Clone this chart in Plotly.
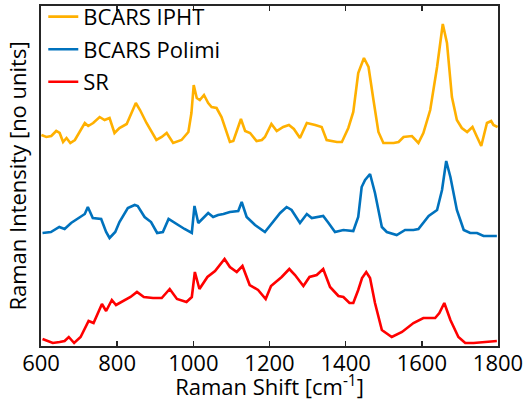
import plotly.graph_objects as go

# ---- data ----
iphT_shift = [601, 614, 627, 640, 649, 658, 667, 677, 689, 702, 715, 724, 737, 754, 767, 780, 793, 806, 825,
              849, 860, 877, 903, 917, 930, 947, 969, 987, 995, 1001, 1009, 1017, 1028, 1039, 1048, 1061, 1074,
              1096, 1105, 1115, 1125, 1136, 1149, 1166, 1180, 1188, 1205, 1219, 1236, 1251, 1264, 1280, 1298,
              1320, 1337, 1350, 1377, 1390, 1399, 1407, 1420, 1433, 1448, 1460, 1473, 1486, 1499, 1526, 1539,
              1552, 1574, 1591, 1604, 1622, 1640, 1655, 1666, 1679, 1692, 1705, 1719, 1733, 1745, 1756, 1771,
              1782, 1788, 1799]
iphT_int = [211, 209, 210, 215, 213, 204, 208, 203, 206, 214, 223, 220, 223, 229, 226, 228, 213, 218, 222,
            243, 236, 223, 206, 209, 213, 203, 206, 214, 233, 261, 248, 246, 251, 243, 239, 238, 229,
            204, 205, 216, 227, 215, 213, 205, 206, 209, 222, 215, 219, 221, 217, 208, 223,
            221, 219, 206, 204, 204, 211, 218, 234, 273, 288, 279, 246, 214, 203, 203, 204,
            209, 210, 203, 213, 236, 279, 322, 303, 249, 226, 218, 214, 219, 209, 200, 223,
            225, 221, 219]

polimi_shift = [604, 626, 648, 662, 679, 701, 715, 723, 736, 758, 771, 780, 795, 806, 828, 846, 854, 872, 889,
                905, 920, 935, 951, 977, 996, 1003, 1013, 1024, 1039, 1052, 1065, 1079, 1096, 1118, 1127, 1140,
                1162, 1188, 1206, 1228, 1245, 1258, 1280, 1298, 1311, 1328, 1341, 1355, 1372, 1394, 1420, 1433,
                1442, 1451, 1464, 1477, 1495, 1508, 1534, 1556, 1578, 1591, 1600, 1618, 1640, 1653, 1664, 1675,
                1692, 1710, 1727, 1745, 1762, 1780, 1797]
polimi_int = [113, 114, 119, 117, 123, 128, 132, 139, 128, 127, 114, 108, 114, 124, 138, 141, 140, 129, 124,
              113, 114, 127, 123, 117, 113, 140, 123, 127, 133, 129, 131, 132, 134, 135, 144, 129,
              121, 114, 123, 133, 139, 136, 123, 132, 128, 129, 130, 123, 114, 116, 115, 129,
              159, 166, 172, 153, 119, 114, 111, 116, 116, 117, 121, 130, 136, 156, 185, 169,
              136, 116, 113, 113, 110, 110, 110]

sr_shift = [604, 631, 649, 662, 673, 687, 704, 725, 738, 760, 771, 786, 797, 817, 835, 852, 870, 894, 917,
            938, 957, 982, 996, 1004, 1016, 1037, 1057, 1082, 1096, 1114, 1129, 1148, 1170, 1190, 1204, 1232,
            1252, 1267, 1289, 1305, 1324, 1341, 1359, 1381, 1394, 1410, 1420, 1433, 1443, 1454, 1464, 1477,
            1495, 1521, 1548, 1578, 1604, 1635, 1646, 1659, 1675, 1696, 1714, 1736, 1771, 1797]
sr_int = [7, 3, 4, 5, 9, 3, 9, 25, 23, 42, 35, 46, 41, 45, 49, 54, 49, 48, 48,
          57, 47, 44, 49, 74, 57, 69, 75, 87, 79, 74, 80, 61, 56, 47, 60, 69,
          77, 71, 60, 69, 71, 77, 59, 50, 49, 43, 43, 56, 68, 74, 68, 43,
          16, 9, 14, 23, 28, 28, 33, 43, 26, 9, 3, 3, 4, 5]

series_names = ["BCARS IPHT", "BCARS Polimi", "SR"]
series_colors = ["#FFB000", "#0072BD", "#FF0000"]
x_ticks = [600, 800, 1000, 1200, 1400, 1600, 1800]

FONT = "Open Sans"
AXC = "#262626"

fig = go.Figure()
for name, xs, ys, col in zip(series_names,
                             [iphT_shift, polimi_shift, sr_shift],
                             [iphT_int, polimi_int, sr_int],
                             series_colors):
    fig.add_trace(go.Scatter(x=xs, y=ys, mode="lines", name=name, legendgroup=name,
                             line=dict(color=col, width=2.6)))

fig.update_layout(
    width=527, height=401,
    margin=dict(l=41, r=29, t=6, b=55, autoexpand=False),
    paper_bgcolor="white", plot_bgcolor="white",
    font=dict(family=FONT, size=22, color="black"),
    showlegend=True,
    legend=dict(x=0.005, y=1.03, xanchor="left", yanchor="top",
                bgcolor="rgba(0,0,0,0)", font=dict(size=22, family=FONT),
                tracegroupgap=1, itemwidth=30),
    xaxis=dict(range=[600, 1800], tickvals=x_ticks, ticks="inside", ticklen=5, tickwidth=1.5,
               tickcolor=AXC, showline=True, linecolor=AXC, linewidth=2, mirror="ticks",
               showgrid=False, zeroline=False, automargin=False, ticklabelstandoff=-3,
               tickfont=dict(size=22, family=FONT),
               title=dict(text="Raman Shift [cm<sup>-1</sup>]", font=dict(size=22, family=FONT),
                          standoff=1)),
    yaxis=dict(range=[0, 340], showticklabels=False, ticks="", showline=True, linecolor=AXC,
               linewidth=2, mirror=True, showgrid=False, zeroline=False, automargin=False,
               title=dict(text="Raman Intensity [no units]", font=dict(size=22, family=FONT),
                          standoff=6)),
)

fig.write_html("out.html",
               config={"displayModeBar": False, "staticPlot": True},
               post_script="document.body.style.margin='0';document.body.style.padding='0';"
                           "document.body.style.overflow='hidden';")
